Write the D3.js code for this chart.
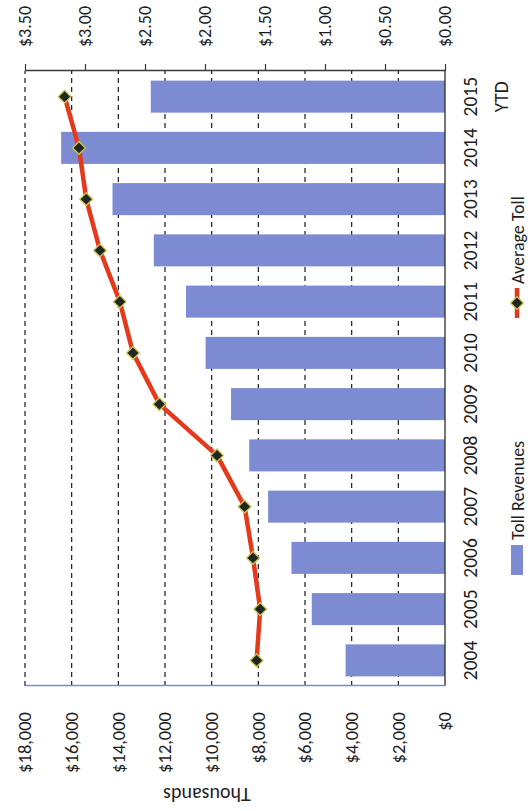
<!DOCTYPE html>
<html>
<head>
<meta charset="utf-8">
<script src="https://cdn.jsdelivr.net/npm/d3@7"></script>
<style>
  html, body { margin: 0; padding: 0; background: #fff; }
  svg { display: block; }
  text { font-family: Carlito, Calibri, Lato, "Open Sans", sans-serif; fill: #1e1e1e; }
</style>
</head>
<body>
<div id="chart"></div>
<script>
// Toll revenues (thousands of dollars) and average toll per year
const years = ["2004", "2005", "2006", "2007", "2008", "2009", "2010", "2011", "2012", "2013", "2014", "2015"];
const tollRevenues = [4260, 5710, 6580, 7580, 8390, 9170, 10260, 11100, 12480, 14250, 16450, 12610];
const averageToll = [1.57, 1.54, 1.60, 1.67, 1.90, 2.38, 2.60, 2.71, 2.875, 2.99, 3.05, 3.17];
const revenueTicks = [0, 2000, 4000, 6000, 8000, 10000, 12000, 14000, 16000, 18000];
const tollTicks = [0, 0.5, 1, 1.5, 2, 2.5, 3, 3.5];
const seriesNames = ["Toll Revenues", "Average Toll"];

const pageW = 528, pageH = 811;
const barColor = "#7d8cd2";
const lineColor = "#e5391e";

// The chart is laid out landscape (811 x 528) and then turned a quarter turn counter-clockwise.
const plot = { left: 125, right: 740, top: 25, bottom: 445 };

const svg = d3.select("#chart").append("svg")
  .attr("width", pageW).attr("height", pageH);

const g = svg.append("g").attr("transform", `translate(0,${pageH}) rotate(-90)`);

const x = d3.scaleBand().domain(years)
  .range([plot.left, plot.right])
  .paddingInner(0.375).paddingOuter(0.1875);
const bw = x.bandwidth();
const yRev = d3.scaleLinear().domain([0, 18000]).range([plot.bottom, plot.top]);
const yToll = d3.scaleLinear().domain([0, 3.5]).range([plot.bottom, plot.top]);

// dashed gridlines
g.append("g").selectAll("line")
  .data(revenueTicks.filter(t => t > 0))
  .join("line")
  .attr("x1", plot.left).attr("x2", plot.right)
  .attr("y1", d => yRev(d)).attr("y2", d => yRev(d))
  .attr("stroke", "#1a1a1a").attr("stroke-width", 1.2)
  .attr("stroke-dasharray", "5,4");

// revenue bars
g.append("g").selectAll("rect")
  .data(years.map((y, i) => ({ year: y, v: tollRevenues[i] })))
  .join("rect")
  .attr("x", d => x(d.year))
  .attr("y", d => yRev(d.v))
  .attr("width", bw)
  .attr("height", d => yRev(0) - yRev(d.v))
  .attr("fill", barColor);

// category axis line
g.append("line")
  .attr("x1", plot.left).attr("x2", plot.right)
  .attr("y1", plot.bottom).attr("y2", plot.bottom)
  .attr("stroke", "#2b2b2b").attr("stroke-width", 1.3);

// primary value axis (revenues)
const leftAxis = g.append("g")
  .attr("transform", `translate(${plot.left},0)`)
  .call(d3.axisLeft(yRev).tickValues(revenueTicks)
    .tickSize(0).tickSizeOuter(0).tickPadding(26)
    .tickFormat(d => "$" + d3.format(",")(d)));
leftAxis.select(".domain").attr("stroke", "#6f8ed8").attr("stroke-width", 1.5);
leftAxis.selectAll("text").attr("font-size", 18.5).attr("font-family", null);

// secondary value axis (average toll)
const rightAxis = g.append("g")
  .attr("transform", `translate(${plot.right},0)`)
  .call(d3.axisRight(yToll).tickValues(tollTicks)
    .tickSize(7).tickSizeOuter(0).tickPadding(17)
    .tickFormat(d3.format("$.2f")));
rightAxis.select(".domain").attr("stroke", "#3a3a3a").attr("stroke-width", 1.3);
rightAxis.selectAll(".tick line").attr("stroke", "#3a3a3a").attr("stroke-width", 1.2);
rightAxis.selectAll("text").attr("font-size", 18).attr("font-family", null);

// category labels
g.append("g").selectAll("text")
  .data(years)
  .join("text")
  .attr("x", d => x(d) + bw / 2)
  .attr("y", 477)
  .attr("text-anchor", "middle")
  .attr("font-size", 19.5)
  .text(d => d);
g.append("text")
  .attr("x", x("2015") + bw / 2)
  .attr("y", 508)
  .attr("text-anchor", "middle")
  .attr("font-size", 19.5)
  .text("YTD");

// display-unit label
g.append("text")
  .attr("transform", "translate(23,207) rotate(-90)")
  .attr("text-anchor", "middle")
  .attr("font-size", 20)
  .text("Thousands");

// average toll line and markers
const pts = years.map((y, i) => ({ year: y, v: averageToll[i] }));
const line = d3.line().x(d => x(d.year) + bw / 2).y(d => yToll(d.v));
g.append("path")
  .datum(pts)
  .attr("d", line)
  .attr("fill", "none")
  .attr("stroke", lineColor)
  .attr("stroke-width", 4.5)
  .attr("stroke-linejoin", "round");

const diamond = d3.symbol(d3.symbolSquare, 82);
g.append("g").selectAll("path")
  .data(pts)
  .join("path")
  .attr("d", diamond)
  .attr("transform", d => `translate(${x(d.year) + bw / 2},${yToll(d.v)}) rotate(45)`)
  .attr("fill", "#1f2626")
  .attr("stroke", "#cfc54a")
  .attr("stroke-width", 1.3);

// legend
const legend = g.append("g");
legend.append("rect")
  .attr("x", 236).attr("y", 511).attr("width", 30).attr("height", 12)
  .attr("fill", barColor);
legend.append("text")
  .attr("x", 271).attr("y", 524)
  .attr("font-size", 18)
  .text(seriesNames[0]);
legend.append("line")
  .attr("x1", 493).attr("x2", 523).attr("y1", 517).attr("y2", 517)
  .attr("stroke", lineColor).attr("stroke-width", 4.5);
legend.append("path")
  .attr("d", diamond)
  .attr("transform", "translate(508,517) rotate(45)")
  .attr("fill", "#1f2626").attr("stroke", "#cfc54a").attr("stroke-width", 1.3);
legend.append("text")
  .attr("x", 527).attr("y", 524)
  .attr("font-size", 18)
  .text(seriesNames[1]);
</script>
</body>
</html>
